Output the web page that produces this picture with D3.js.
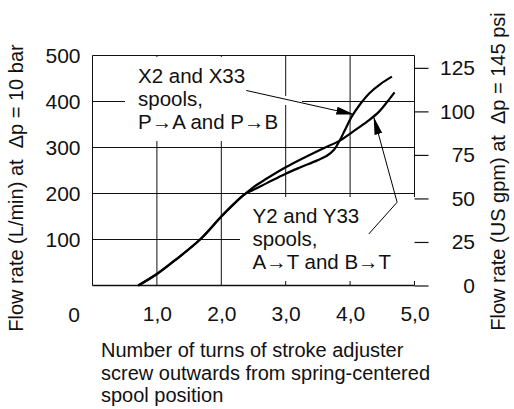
<!DOCTYPE html>
<html>
<head>
  <meta charset="utf-8">
  <script src="https://d3js.org/d3.v7.min.js"></script>
  <style>
    body { margin: 0; background: #fff; }
    svg text { font-family: "Liberation Sans", Arial, sans-serif; fill: #111; }
    .tick text { font-size: 21px; }
    .lbl { font-size: 20.5px; }
    .title { font-size: 20px; white-space: pre; }
    .grid { stroke: #111; stroke-width: 1; fill: none; }
    .curve { fill: none; stroke: #000; stroke-width: 2.2; }
    .arrow { fill: none; stroke: #000; stroke-width: 1; }
  </style>
</head>
<body>
<div id="plot"></div>
<script>
// turns of stroke adjuster vs flow (L/min)
var turnsX2 = [0.71, 1.0, 1.3, 1.67, 2.0, 2.2, 2.35, 2.5, 2.7, 3.0, 3.23, 3.49, 3.64, 3.75, 3.83, 3.92, 4.02, 4.15, 4.3, 4.47, 4.65];
var flowX2  = [0, 25, 57, 100, 150, 178, 197, 208, 222, 243, 257, 272, 282, 295, 313, 338, 366, 393, 418, 438, 454];

var turnsY2 = [0.71, 1.0, 1.3, 1.67, 2.0, 2.2, 2.35, 2.5, 2.7, 3.0, 3.23, 3.58, 3.84, 4.1, 4.3, 4.45, 4.58, 4.69];
var flowY2  = [0, 25, 57, 100, 150, 178, 197, 214, 232, 257, 274, 298, 315, 340, 360, 378, 400, 420];

var xTicks = [1, 2, 3, 4, 5];
var yTicksLmin = [100, 200, 300, 400, 500];
var yTicksGpm = [0, 25, 50, 75, 100, 125];

var LPM_PER_GPM = 3.785;

var width = 514, height = 409;

var svg = d3.select('#plot').append('svg')
  .attr('width', width)
  .attr('height', height);

var x = d3.scaleLinear().domain([0, 5]).range([92.5, 414.5]);
var y = d3.scaleLinear().domain([0, 500]).range([285.5, 55.5]);
var yGpm = d3.scaleLinear().domain([0, 500 / LPM_PER_GPM]).range([285.5, 55.5]);

var comma = d3.formatLocale({decimal: ',', thousands: '.', grouping: [3], currency: ['', '']}).format('.1f');

// grid
svg.selectAll('.vgrid')
  .data(xTicks)
  .enter().append('line')
  .attr('class', 'grid')
  .attr('x1', function(d){ return x(d); })
  .attr('x2', function(d){ return x(d); })
  .attr('y1', y(500))
  .attr('y2', y(0));

svg.selectAll('.hgrid')
  .data(yTicksLmin.slice(0, 4))
  .enter().append('line')
  .attr('class', 'grid')
  .attr('x1', x(0))
  .attr('x2', x(5))
  .attr('y1', function(d){ return y(d); })
  .attr('y2', function(d){ return y(d); });

// white label boxes
svg.append('rect').attr('x', 125).attr('y', 57).attr('width', 159).attr('height', 84).attr('fill', '#fff');
svg.append('rect').attr('x', 284).attr('y', 96).attr('width', 18).attr('height', 9).attr('fill', '#fff');
svg.append('rect').attr('x', 240).attr('y', 197).attr('width', 177).attr('height', 84).attr('fill', '#fff');

// frame
svg.append('line').attr('class', 'grid').attr('x1', x(0)).attr('x2', x(5)).attr('y1', y(500)).attr('y2', y(500));
svg.append('line').attr('class', 'grid').attr('x1', x(0)).attr('x2', x(0)).attr('y1', y(500)).attr('y2', y(0));
svg.append('line').attr('class', 'grid').attr('x1', x(0)).attr('x2', x(5)).attr('y1', y(0)).attr('y2', y(0))
  .style('stroke-width', 1.3);

// axes
var leftAxis = d3.axisLeft(y).tickValues(yTicksLmin).tickSize(0).tickPadding(12);
svg.append('g').attr('transform', 'translate(' + x(0) + ',0)')
  .call(leftAxis).call(function(g){ g.select('.domain').remove(); });

var bottomAxis = d3.axisBottom(x).tickValues(xTicks).tickSize(0).tickPadding(21).tickFormat(comma);
svg.append('g').attr('transform', 'translate(0,' + y(0) + ')')
  .call(bottomAxis).call(function(g){ g.select('.domain').remove(); });

var rightAxis = d3.axisRight(yGpm).tickValues(yTicksGpm).tickSize(14);
svg.append('g').attr('transform', 'translate(' + x(5) + ',0)')
  .call(rightAxis)
  .call(function(g){
    g.select('.domain').remove();
    g.selectAll('.tick line').attr('stroke', '#111').attr('stroke-width', 1.2);
    g.selectAll('.tick text').attr('x', 60.5).attr('text-anchor', 'end');
  });

svg.selectAll('.tick text').attr('fill', '#111');

svg.append('text')
  .style('font-size', '21px')
  .attr('x', 74).attr('y', 322).attr('text-anchor', 'middle').text('0');

// curves
var line = d3.line()
  .x(function(d){ return x(d[0]); })
  .y(function(d){ return y(d[1]); })
  .curve(d3.curveCatmullRom.alpha(0.5));

svg.append('path').attr('class', 'curve')
  .attr('d', line(d3.zip(turnsX2, flowX2)));
svg.append('path').attr('class', 'curve')
  .attr('d', line(d3.zip(turnsY2, flowY2)));

// label text
function label(lines, x0, y0){
  var t = svg.append('text').attr('class', 'lbl');
  lines.forEach(function(s, i){
    t.append('tspan').attr('x', x0).attr('y', y0 + i * 23).text(s);
  });
}
label(['X2 and X33', 'spools,', 'P\u2192A and P\u2192B'], 138, 83);
label(['Y2 and Y33', 'spools,', 'A\u2192T and B\u2192T'], 252.5, 223);

// arrows
svg.append('defs').append('marker')
  .attr('id', 'head')
  .attr('viewBox', '0 -4 18 8')
  .attr('refX', 17).attr('refY', 0)
  .attr('markerUnits', 'userSpaceOnUse')
  .attr('markerWidth', 18).attr('markerHeight', 8)
  .attr('orient', 'auto')
  .append('path').attr('d', 'M0,-4L18,0L0,4Z').attr('fill', '#000');

var arrowLine = d3.line().x(function(d){ return x(d[0]); }).y(function(d){ return y(d[1]); });

svg.append('path').attr('class', 'arrow')
  .attr('d', arrowLine([[2.387, 424], [4.05, 372]]))
  .attr('marker-end', 'url(#head)');
svg.append('path').attr('class', 'arrow')
  .attr('d', arrowLine([[4.29, 112], [4.73, 181], [4.37, 365]]))
  .attr('marker-end', 'url(#head)');

// titles
svg.append('text').attr('class', 'title')
  .attr('transform', 'translate(22.5,188) rotate(-90)')
  .attr('text-anchor', 'middle')
  .text('Flow rate (L/min) at  \u0394p = 10 bar');

svg.append('text').attr('class', 'title')
  .attr('transform', 'translate(505,171.5) rotate(-90)')
  .attr('text-anchor', 'middle')
  .text('Flow rate (US gpm) at  \u0394p = 145 psi');

var xt = svg.append('text').attr('class', 'title');
['Number of turns of stroke adjuster', 'screw outwards from spring-centered', 'spool position']
  .forEach(function(s, i){
    xt.append('tspan').attr('x', 101).attr('y', 357 + i * 22.5).text(s);
  });
</script>
</body>
</html>
